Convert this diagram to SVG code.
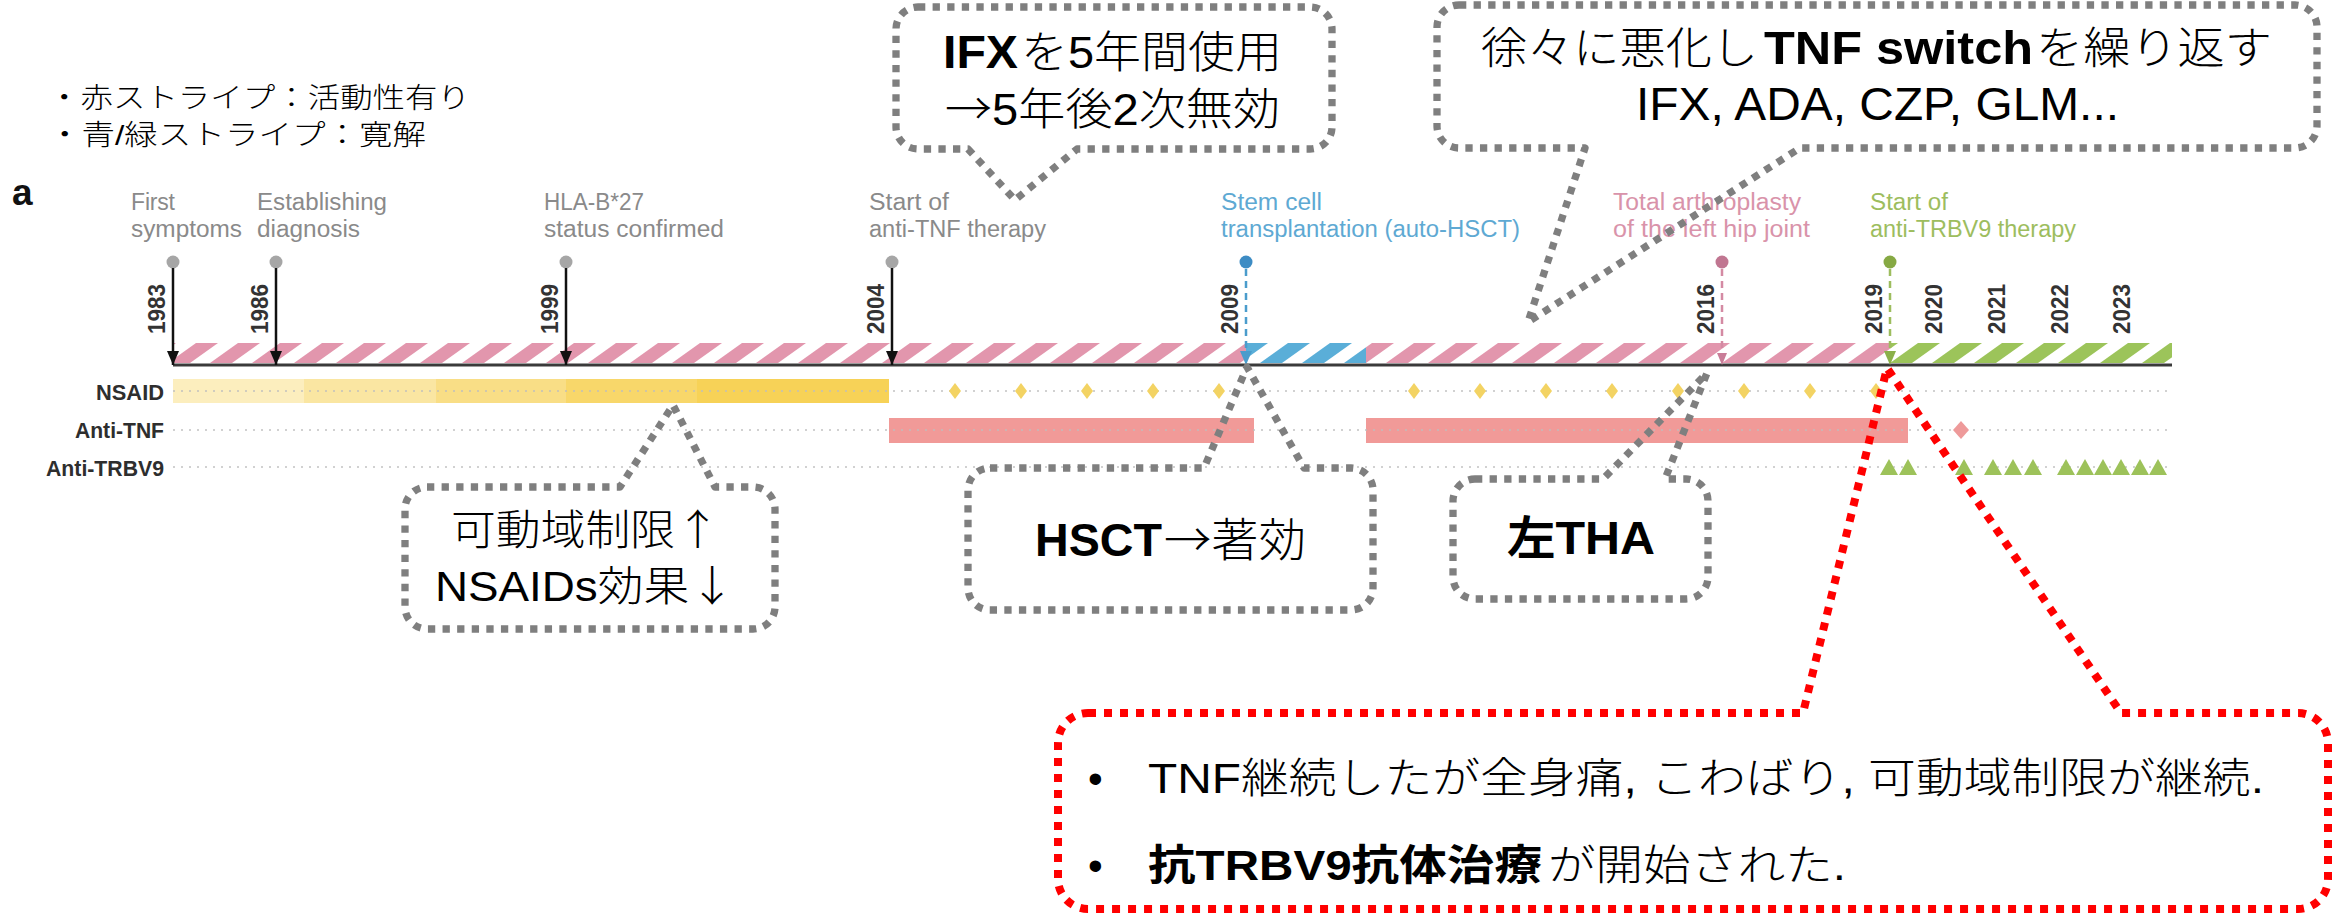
<svg xmlns="http://www.w3.org/2000/svg" width="2336" height="916" viewBox="0 0 2336 916">
<defs>
<style>
.jp{font-family:"Liberation Sans","Noto Sans CJK JP",sans-serif;fill:#000;}
.cjk{font-family:"Noto Sans CJK JP",sans-serif;}
.lt{font-weight:300;}
.bd{font-weight:bold;}
.ev{font-family:"Liberation Sans",Arial,sans-serif;font-size:23px;}
.gray{fill:#8a8a8a;}
.blue{fill:#5ea9d3;}
.pink{fill:#d993aa;}
.green{fill:#9dbd5e;}
.yr{font-family:"Liberation Sans",Arial,sans-serif;font-size:23px;font-weight:bold;fill:#333;}
.row{font-family:"Liberation Sans",Arial,sans-serif;font-size:22px;font-weight:bold;fill:#2e2e2e;text-anchor:end;}
.callout{fill:none;stroke:#7f7f7f;stroke-width:7.3;stroke-dasharray:7.3 7.3;stroke-linejoin:round;}
.callout-red{fill:none;stroke:#ff0000;stroke-width:8;stroke-dasharray:8 8;stroke-linejoin:round;}
.dotrow{stroke:#bdbdbd;stroke-width:2;stroke-dasharray:2 6;fill:none;}
.dia{fill:#f3d363;}
.tri{fill:#9dc25a;}
</style>
<pattern id="stripePink" patternUnits="userSpaceOnUse" x="0" y="343" width="42" height="20">
<polygon points="0,20 22,20 50,0 28,0" fill="#e296ad"/>
<polygon points="-42,20 -20,20 8,0 -14,0" fill="#e296ad"/>
</pattern>
<pattern id="stripeBlue" patternUnits="userSpaceOnUse" x="0" y="343" width="42" height="20">
<polygon points="0,20 22,20 50,0 28,0" fill="#5aaed8"/>
<polygon points="-42,20 -20,20 8,0 -14,0" fill="#5aaed8"/>
</pattern>
<pattern id="stripeGreen" patternUnits="userSpaceOnUse" x="0" y="343" width="42" height="20">
<polygon points="0,20 22,20 50,0 28,0" fill="#9cc45a"/>
<polygon points="-42,20 -20,20 8,0 -14,0" fill="#9cc45a"/>
</pattern>
<marker id="arrBlack" markerUnits="userSpaceOnUse" markerWidth="14" markerHeight="12" refX="14" refY="6" orient="auto">
<path d="M0,0 L14,6 L0,12 z" fill="#111"/>
</marker>
<marker id="arrBlue" markerUnits="userSpaceOnUse" markerWidth="14" markerHeight="12" refX="14" refY="6" orient="auto">
<path d="M0,0 L14,6 L0,12 z" fill="#4a9ccc"/>
</marker>
<marker id="arrPink" markerUnits="userSpaceOnUse" markerWidth="12" markerHeight="10" refX="12" refY="5" orient="auto">
<path d="M0,0 L12,5 L0,10 z" fill="#c97d98"/>
</marker>
<marker id="arrGreen" markerUnits="userSpaceOnUse" markerWidth="14" markerHeight="12" refX="14" refY="6" orient="auto">
<path d="M0,0 L14,6 L0,12 z" fill="#8bb04a"/>
</marker>
</defs>
<rect x="0" y="0" width="2336" height="916" fill="#fff"/>

<g id="legend">
<text class="jp lt" x="48" y="108" font-size="28" textLength="422" lengthAdjust="spacingAndGlyphs">・赤ストライプ：活動性有り</text>
<text class="jp lt" x="48" y="145" font-size="28" textLength="378" lengthAdjust="spacingAndGlyphs">・青/緑ストライプ：寛解</text>
</g>

<g id="panel-label">
<text x="12" y="205" font-family="Liberation Sans, Arial, sans-serif" font-size="37" font-weight="bold" fill="#111">a</text>
</g>

<g id="timeline-band">
<rect x="173" y="343" width="1073" height="20" fill="url(#stripePink)"/>
<rect x="1246" y="343" width="120" height="20" fill="url(#stripeBlue)"/>
<rect x="1366" y="343" width="524" height="20" fill="url(#stripePink)"/>
<rect x="1890" y="343" width="282" height="20" fill="url(#stripeGreen)"/>
<line x1="173" y1="365" x2="2172" y2="365" stroke="#3a3a3a" stroke-width="3"/>
</g>

<g id="event-1983">
<text class="ev gray" x="131" y="210" textLength="44">First</text>
<text class="ev gray" x="131" y="237" textLength="111" lengthAdjust="spacingAndGlyphs">symptoms</text>
<circle cx="173" cy="262" r="6.5" fill="#a6a6a6"/>
<text class="yr" transform="translate(165,334) rotate(-90)" textLength="50" lengthAdjust="spacingAndGlyphs">1983</text>
</g>
<g id="event-1986">
<text class="ev gray" x="257" y="210" textLength="130" lengthAdjust="spacingAndGlyphs">Establishing</text>
<text class="ev gray" x="257" y="237" textLength="103" lengthAdjust="spacingAndGlyphs">diagnosis</text>
<circle cx="276" cy="262" r="6.5" fill="#a6a6a6"/>
<text class="yr" transform="translate(268,334) rotate(-90)" textLength="50" lengthAdjust="spacingAndGlyphs">1986</text>
</g>
<g id="event-1999">
<text class="ev gray" x="544" y="210" textLength="100" lengthAdjust="spacingAndGlyphs">HLA-B*27</text>
<text class="ev gray" x="544" y="237" textLength="180" lengthAdjust="spacingAndGlyphs">status confirmed</text>
<circle cx="566" cy="262" r="6.5" fill="#a6a6a6"/>
<text class="yr" transform="translate(558,334) rotate(-90)" textLength="50" lengthAdjust="spacingAndGlyphs">1999</text>
</g>
<g id="event-2004">
<text class="ev gray" x="869" y="210" textLength="80" lengthAdjust="spacingAndGlyphs">Start of</text>
<text class="ev gray" x="869" y="237" textLength="177" lengthAdjust="spacingAndGlyphs">anti-TNF therapy</text>
<circle cx="892" cy="262" r="6.5" fill="#a6a6a6"/>
<text class="yr" transform="translate(884,334) rotate(-90)" textLength="50" lengthAdjust="spacingAndGlyphs">2004</text>
</g>
<g id="event-2009">
<text class="ev blue" x="1221" y="210" textLength="101" lengthAdjust="spacingAndGlyphs">Stem cell</text>
<text class="ev blue" x="1221" y="237" textLength="299" lengthAdjust="spacingAndGlyphs">transplantation (auto-HSCT)</text>
<circle cx="1246" cy="262" r="6.5" fill="#3d8cc4"/>
<text class="yr" transform="translate(1238,334) rotate(-90)" textLength="50" lengthAdjust="spacingAndGlyphs">2009</text>
</g>
<g id="event-2016">
<text class="ev pink" x="1613" y="210" textLength="188" lengthAdjust="spacingAndGlyphs">Total arthroplasty</text>
<text class="ev pink" x="1613" y="237" textLength="197" lengthAdjust="spacingAndGlyphs">of the left hip joint</text>
<circle cx="1722" cy="262" r="6.5" fill="#c07691"/>
<text class="yr" transform="translate(1714,334) rotate(-90)" textLength="50" lengthAdjust="spacingAndGlyphs">2016</text>
</g>
<g id="event-2019">
<text class="ev green" x="1870" y="210" textLength="78" lengthAdjust="spacingAndGlyphs">Start of</text>
<text class="ev green" x="1870" y="237" textLength="206" lengthAdjust="spacingAndGlyphs">anti-TRBV9 therapy</text>
<circle cx="1890" cy="262" r="6.5" fill="#86a943"/>
<text class="yr" transform="translate(1882,334) rotate(-90)" textLength="50" lengthAdjust="spacingAndGlyphs">2019</text>
</g>
<g id="years-later">
<text class="yr" transform="translate(1942,334) rotate(-90)" textLength="50" lengthAdjust="spacingAndGlyphs">2020</text>
<text class="yr" transform="translate(2005,334) rotate(-90)" textLength="50" lengthAdjust="spacingAndGlyphs">2021</text>
<text class="yr" transform="translate(2068,334) rotate(-90)" textLength="50" lengthAdjust="spacingAndGlyphs">2022</text>
<text class="yr" transform="translate(2130,334) rotate(-90)" textLength="50" lengthAdjust="spacingAndGlyphs">2023</text>
</g>

<g id="connectors">
<line x1="173" y1="268" x2="173" y2="365" stroke="#111" stroke-width="2.5" marker-end="url(#arrBlack)"/>
<line x1="276" y1="268" x2="276" y2="365" stroke="#111" stroke-width="2.5" marker-end="url(#arrBlack)"/>
<line x1="566" y1="268" x2="566" y2="365" stroke="#111" stroke-width="2.5" marker-end="url(#arrBlack)"/>
<line x1="892" y1="268" x2="892" y2="365" stroke="#111" stroke-width="2.5" marker-end="url(#arrBlack)"/>
<line x1="1246" y1="269" x2="1246" y2="365" stroke="#4a9ccc" stroke-width="2.5" stroke-dasharray="7 5" marker-end="url(#arrBlue)"/>
<line x1="1722" y1="269" x2="1722" y2="365" stroke="#d48aa3" stroke-width="2.5" stroke-dasharray="7 5" marker-end="url(#arrPink)"/>
<line x1="1890" y1="269" x2="1890" y2="365" stroke="#9dbd5e" stroke-width="2.5" stroke-dasharray="7 5" marker-end="url(#arrGreen)"/>
</g>

<g id="row-nsaid">
<text class="row" x="164" y="400" textLength="68" lengthAdjust="spacingAndGlyphs">NSAID</text>
<rect x="173" y="379" width="131" height="24" fill="#f6cd45" fill-opacity="0.35"/>
<rect x="304" y="379" width="132" height="24" fill="#f6cd45" fill-opacity="0.5"/>
<rect x="436" y="379" width="130" height="24" fill="#f6cd45" fill-opacity="0.65"/>
<rect x="566" y="379" width="131" height="24" fill="#f6cd45" fill-opacity="0.8"/>
<rect x="697" y="379" width="192" height="24" fill="#f6cd45" fill-opacity="0.9"/>
<line class="dotrow" x1="173" y1="391" x2="2172" y2="391" stroke-opacity="0.7"/>
<g id="nsaid-doses">
<polygon class="dia" points="955,383 961,391 955,399 949,391"/>
<polygon class="dia" points="1021,383 1027,391 1021,399 1015,391"/>
<polygon class="dia" points="1087,383 1093,391 1087,399 1081,391"/>
<polygon class="dia" points="1153,383 1159,391 1153,399 1147,391"/>
<polygon class="dia" points="1219,383 1225,391 1219,399 1213,391"/>
<polygon class="dia" points="1414,383 1420,391 1414,399 1408,391"/>
<polygon class="dia" points="1480,383 1486,391 1480,399 1474,391"/>
<polygon class="dia" points="1546,383 1552,391 1546,399 1540,391"/>
<polygon class="dia" points="1612,383 1618,391 1612,399 1606,391"/>
<polygon class="dia" points="1678,383 1684,391 1678,399 1672,391"/>
<polygon class="dia" points="1744,383 1750,391 1744,399 1738,391"/>
<polygon class="dia" points="1810,383 1816,391 1810,399 1804,391"/>
<polygon class="dia" points="1876,383 1882,391 1876,399 1870,391"/>
</g>
</g>

<g id="row-antitnf">
<text class="row" x="164" y="438" textLength="89" lengthAdjust="spacingAndGlyphs">Anti-TNF</text>
<rect x="889" y="418" width="365" height="25" fill="#f19a98"/>
<rect x="1366" y="418" width="542" height="25" fill="#f19a98"/>
<line class="dotrow" x1="173" y1="430" x2="2172" y2="430" stroke-opacity="0.7"/>
<polygon points="1961,421 1969,430 1961,439 1953,430" fill="#ee9a9a"/>
</g>

<g id="row-antitrbv9">
<text class="row" x="164" y="476" textLength="118" lengthAdjust="spacingAndGlyphs">Anti-TRBV9</text>
<line class="dotrow" x1="173" y1="467" x2="2172" y2="467" stroke-opacity="0.7"/>
<polygon class="tri" points="1880,475 1889,459 1898,475"/>
<polygon class="tri" points="1899,475 1908,459 1917,475"/>
<polygon class="tri" points="1955,475 1964,459 1973,475"/>
<polygon class="tri" points="1984,475 1993,459 2002,475"/>
<polygon class="tri" points="2004,475 2013,459 2022,475"/>
<polygon class="tri" points="2024,475 2033,459 2042,475"/>
<polygon class="tri" points="2057,475 2066,459 2075,475"/>
<polygon class="tri" points="2076,475 2085,459 2094,475"/>
<polygon class="tri" points="2094,475 2103,459 2112,475"/>
<polygon class="tri" points="2112,475 2121,459 2130,475"/>
<polygon class="tri" points="2131,475 2140,459 2149,475"/>
<polygon class="tri" points="2149,475 2158,459 2167,475"/>
</g>

<g id="callout-ifx">
<path class="callout" d="M918,7 H1310 A22,22 0 0 1 1332,29 V127 A22,22 0 0 1 1310,149 H1077 L1015,200 L968,149 H918 A22,22 0 0 1 896,127 V29 A22,22 0 0 1 918,7 Z"/>
<text class="jp bd" x="943" y="68" font-size="46" textLength="75" lengthAdjust="spacingAndGlyphs">IFX</text>
<text class="jp lt" x="1021" y="68" font-size="44" textLength="261" lengthAdjust="spacingAndGlyphs">を5年間使用</text>
<text class="jp lt" x="945" y="125" font-size="44" textLength="335" lengthAdjust="spacingAndGlyphs"><tspan class="cjk">→</tspan>5年後2次無効</text>
</g>

<g id="callout-switch">
<path class="callout" d="M1459,5 H2295 A22,22 0 0 1 2317,27 V126 A22,22 0 0 1 2295,148 H1800 L1528,322 L1585,148 H1459 A22,22 0 0 1 1437,126 V27 A22,22 0 0 1 1459,5 Z"/>
<text class="jp lt" x="1481" y="64" font-size="44" textLength="277" lengthAdjust="spacingAndGlyphs">徐々に悪化し</text>
<text class="jp bd" x="1764" y="64" font-size="46" textLength="269" lengthAdjust="spacingAndGlyphs">TNF switch</text>
<text class="jp lt" x="2036" y="64" font-size="44" textLength="236" lengthAdjust="spacingAndGlyphs">を繰り返す</text>
<text class="jp lt" x="1636" y="120" font-size="46" textLength="483" lengthAdjust="spacingAndGlyphs">IFX, ADA, CZP, GLM...</text>
</g>

<g id="callout-nsaid">
<path class="callout" d="M427,487 H620 L673,405 L715,487 H753 A22,22 0 0 1 775,509 V607 A22,22 0 0 1 753,629 H427 A22,22 0 0 1 405,607 V509 A22,22 0 0 1 427,487 Z"/>
<text class="jp lt" x="451" y="545" font-size="42" textLength="269" lengthAdjust="spacingAndGlyphs">可動域制限<tspan class="cjk">↑</tspan></text>
<text class="jp lt" x="435" y="601" font-size="42" textLength="300" lengthAdjust="spacingAndGlyphs">NSAIDs効果<tspan class="cjk">↓</tspan></text>
</g>

<g id="callout-hsct">
<path class="callout" d="M990,468 H1204 L1247,367 L1304,468 H1351 A22,22 0 0 1 1373,490 V588 A22,22 0 0 1 1351,610 H990 A22,22 0 0 1 968,588 V490 A22,22 0 0 1 990,468 Z"/>
<text class="jp bd" x="1035" y="556" font-size="46" textLength="127" lengthAdjust="spacingAndGlyphs">HSCT</text>
<text class="jp lt cjk" x="1164" y="556" font-size="46" textLength="142" lengthAdjust="spacingAndGlyphs">→著効</text>
</g>

<g id="callout-tha">
<path class="callout" d="M1475,479 H1603 L1707,373 L1665,479 H1686 A22,22 0 0 1 1708,501 V577 A22,22 0 0 1 1686,599 H1475 A22,22 0 0 1 1453,577 V501 A22,22 0 0 1 1475,479 Z"/>
<text class="jp bd" x="1507" y="554" font-size="46" textLength="148" lengthAdjust="spacingAndGlyphs">左THA</text>
</g>

<g id="callout-trbv9">
<path class="callout-red" d="M1088,713 H1803 L1887,368 L2121,713 H2298 A30,30 0 0 1 2328,743 V879 A30,30 0 0 1 2298,909 H1088 A30,30 0 0 1 1058,879 V743 A30,30 0 0 1 1088,713 Z"/>
<text class="jp" x="1088" y="793" font-size="42">•</text>
<text class="jp lt" x="1148" y="793" font-size="42" textLength="1116" lengthAdjust="spacingAndGlyphs">TNF継続したが全身痛, こわばり, 可動域制限が継続.</text>
<text class="jp" x="1088" y="880" font-size="42">•</text>
<text class="jp bd" x="1148" y="880" font-size="42" textLength="394" lengthAdjust="spacingAndGlyphs">抗TRBV9抗体治療</text>
<text class="jp lt" x="1548" y="880" font-size="42" textLength="298" lengthAdjust="spacingAndGlyphs">が開始された.</text>
</g>
</svg>
